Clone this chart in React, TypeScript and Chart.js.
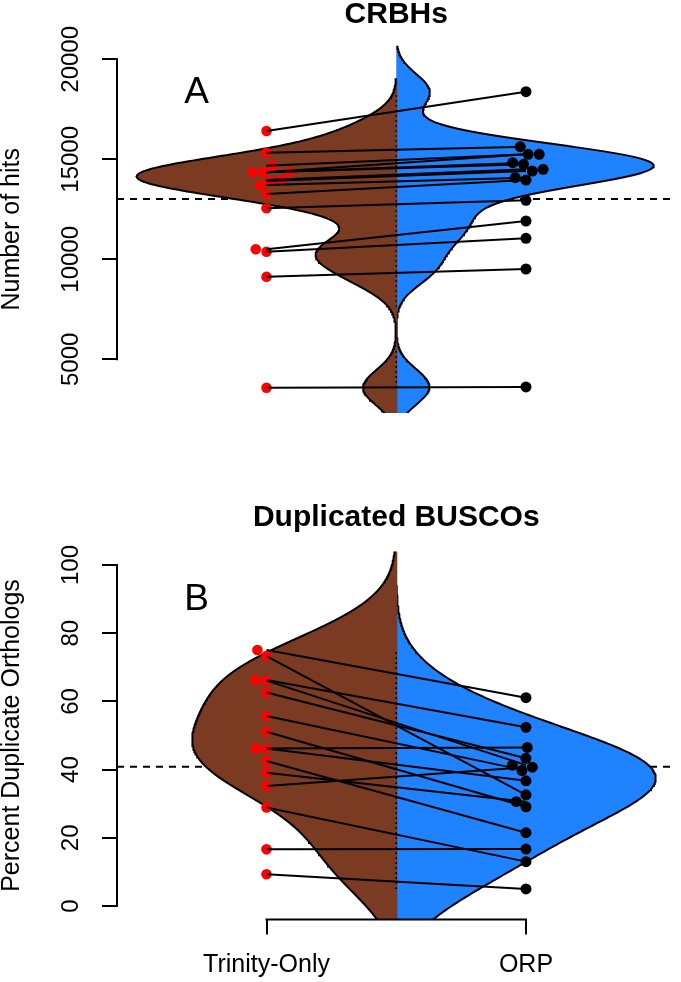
import React, { useEffect, useRef } from "react";
import { Chart, registerables } from "chart.js";

Chart.register(...registerables);

const FONT = '"Liberation Sans", Arial, Helvetica, sans-serif';

// ---------------- data ----------------
const groups = ["Trinity-Only", "ORP"];

// Panel A – CRBHs (paired by index: Trinity-Only[i] -> ORP[i])
const crbhTrinity = [16415, 15330, 14680, 14350, 14350, 14350, 13965, 13915, 13715, 13265, 12550, 10500, 10380, 9130, 3580];
const crbhORP = [18380, 15630, 15250, 15250, 14830, 14750, 14500, 14415, 14080, 13965, 12950, 11915, 11050, 9515, 3620];
const crbhTicks = [5000, 10000, 15000, 20000];
const crbhLimits = [3000, 20000];
const crbhBandwidth = 880;

// Panel B – Duplicated BUSCOs (paired by index)
const buscoTrinity = [75.1, 73.3, 66.3, 66.1, 62.6, 55.7, 51.1, 46.2, 46.2, 42.5, 39.1, 35.2, 28.9, 16.6, 9.3];
const buscoORP = [61.1, 32.6, 52.4, 41.3, 43.3, 39.7, 29.1, 46.5, 36.7, 21.5, 30.6, 40.7, 13.0, 16.7, 5.0];
const buscoTicks = [0, 20, 40, 60, 80, 100];
const buscoLimits = [0, 100];
const buscoBandwidth = 11;

// ---------------- style ----------------
const BROWN = "#7B3A22";
const BLUE = "#1F82FF";
const RED = "#FF0000";
const BLACK = "#000000";
const CENTER = 0.5;
const MAXW = 1.0;
const X_MIN = -0.5763;
const X_MAX = 1.5763;
const SWARM_D = 11;

type PanelSpec = {
  title: string;
  yTitle: string;
  letter: string;
  letterAt: [number, number];
  left: number[];
  right: number[];
  ticks: number[];
  limits: number[];
  bw: number;
  height: number;
  top: number;
  titlePad: { top: number; bottom: number };
  bottomSpace: number;
  showX: boolean;
  tickPad: number;
};

const panelA: PanelSpec = {
  title: "CRBHs",
  yTitle: "Number of hits",
  letter: "A",
  letterAt: [-0.27, 18315],
  left: crbhTrinity,
  right: crbhORP,
  ticks: crbhTicks,
  limits: crbhLimits,
  bw: crbhBandwidth,
  height: 470,
  top: 0,
  titlePad: { top: 0, bottom: 15.7 },
  bottomSpace: 57.1,
  showX: false,
  tickPad: -2.4,
};

const panelB: PanelSpec = {
  title: "Duplicated BUSCOs",
  yTitle: "Percent Duplicate Orthologs",
  letter: "B",
  letterAt: [-0.27, 89.7],
  left: buscoTrinity,
  right: buscoORP,
  ticks: buscoTicks,
  limits: buscoLimits,
  bw: buscoBandwidth,
  height: 512,
  top: 470,
  titlePad: { top: 32.5, bottom: 18.9 },
  bottomSpace: 62.4,
  showX: true,
  tickPad: 11,
};

function kdeAt(values: number[], bw: number, y: number) {
  let d = 0;
  for (const v of values) {
    const z = (y - v) / bw;
    d += Math.exp(-0.5 * z * z);
  }
  return d;
}

function density(values: number[], bw: number, n = 400) {
  const lo = Math.min(...values) - 3 * bw;
  const hi = Math.max(...values) + 3 * bw;
  const out: { y: number; d: number }[] = [];
  for (let i = 0; i <= n; i++) {
    const y = lo + ((hi - lo) * i) / n;
    out.push({ y, d: kdeAt(values, bw, y) });
  }
  return out;
}

function swarm(values: number[], toPix: (v: number) => number, d: number) {
  const idx = values.map((_, i) => i).sort((a, b) => values[a] - values[b]);
  const placed: { x: number; y: number }[] = [];
  const out = new Array(values.length).fill(0);
  for (const i of idx) {
    const y = toPix(values[i]);
    const cands = [0];
    for (const p of placed) {
      const dy = Math.abs(p.y - y);
      if (dy < d) {
        const dx = Math.sqrt(d * d - dy * dy);
        cands.push(p.x + dx, p.x - dx);
      }
    }
    const ok = cands.filter((c) =>
      placed.every((p) => (c - p.x) ** 2 + (y - p.y) ** 2 >= d * d - 1e-6)
    );
    ok.sort((a, b) => Math.abs(a) - Math.abs(b) || a - b);
    const x = ok.length ? ok[0] : 0;
    placed.push({ x, y });
    out[i] = x;
  }
  return out;
}

const rAxes = {
  id: "rAxes",
  afterDraw(chart: any, _args: any, opts: any) {
    const { ctx, chartArea } = chart;
    const ys = chart.scales.y;
    const xs = chart.scales.x;
    const t: number[] = opts.yTicks;
    ctx.save();
    ctx.strokeStyle = BLACK;
    ctx.lineWidth = 2;
    ctx.lineCap = "butt";
    ctx.beginPath();
    ctx.moveTo(chartArea.left, ys.getPixelForValue(t[0]) + 1);
    ctx.lineTo(chartArea.left, ys.getPixelForValue(t[t.length - 1]) - 1);
    ctx.stroke();
    if (opts.showX) {
      ctx.beginPath();
      ctx.moveTo(xs.getPixelForValue(0) - 1, chartArea.bottom);
      ctx.lineTo(xs.getPixelForValue(1) + 1, chartArea.bottom);
      ctx.stroke();
    }
    ctx.fillStyle = BLACK;
    ctx.font = `37px ${FONT}`;
    ctx.textAlign = "center";
    ctx.textBaseline = "middle";
    ctx.fillText(opts.letter, xs.getPixelForValue(opts.letterAt[0]), ys.getPixelForValue(opts.letterAt[1]));
    ctx.restore();
  },
};

function buildConfig(p: PanelSpec): any {
  const span = p.limits[1] - p.limits[0];
  const yMin = p.limits[0] - 0.04 * span;
  const yMax = p.limits[1] + 0.04 * span;
  const all = [...p.left, ...p.right];
  const mean = all.reduce((a, b) => a + b, 0) / all.length;
  const dl = density(p.left, p.bw);
  const dr = density(p.right, p.bw);
  const maxD = Math.max(...dl.map((o) => o.d), ...dr.map((o) => o.d));
  const leftOutline = dl.map((o) => ({ x: CENTER - (o.d / maxD) * MAXW, y: o.y }));
  const rightOutline = dr.map((o) => ({ x: CENTER + (o.d / maxD) * MAXW, y: o.y }));
  const lo = Math.min(...all);
  const hi = Math.max(...all);
  // dotted bean axis along the centre, shown where both halves have visible width
  const centre: { x: number; y: number }[] = [];
  const nC = 300;
  for (let i = 0; i <= nC; i++) {
    const y = lo + ((hi - lo) * i) / nC;
    const w = Math.min(kdeAt(p.left, p.bw, y), kdeAt(p.right, p.bw, y)) / maxD;
    centre.push({ x: w > 0.012 ? CENTER : NaN, y });
  }

  const datasets: any[] = [
    {
      data: [
        { x: X_MIN, y: mean },
        { x: X_MAX, y: mean },
      ],
      borderColor: BLACK,
      borderWidth: 2,
      borderDash: [7, 6],
      pointRadius: 0,
      fill: false,
      order: 10,
    },
    {
      data: leftOutline,
      indexAxis: "y",
      borderColor: BLACK,
      borderWidth: 2,
      backgroundColor: BROWN,
      fill: { value: CENTER + 0.004 },
      pointRadius: 0,
      tension: 0,
      order: 9,
    },
    {
      data: rightOutline,
      indexAxis: "y",
      borderColor: BLACK,
      borderWidth: 2,
      backgroundColor: BLUE,
      fill: { value: CENTER },
      pointRadius: 0,
      tension: 0,
      order: 9,
    },
    {
      data: centre,
      indexAxis: "y",
      borderColor: BLACK,
      borderWidth: 1.6,
      borderDash: [1.6, 3.4],
      pointRadius: 0,
      spanGaps: false,
      fill: false,
      order: 8,
    },
    {
      data: p.left.map((v) => ({ x: 0, y: v })),
      showLine: false,
      pointRadius: 5.3,
      pointBorderWidth: 0,
      pointBackgroundColor: RED,
      fill: false,
      order: 7,
      swarm: "left",
    },
    {
      data: p.right.map((v) => ({ x: 1, y: v })),
      showLine: false,
      pointRadius: 5.5,
      pointBorderWidth: 0,
      pointBackgroundColor: BLACK,
      fill: false,
      order: 7,
      swarm: "right",
    },
    ...p.left.map((v, i) => ({
      data: [
        { x: 0, y: v },
        { x: 1, y: p.right[i] },
      ],
      borderColor: BLACK,
      borderWidth: 2,
      pointRadius: 0,
      fill: false,
      order: 6,
    })),
  ];

  return {
    type: "line",
    data: { datasets },
    plugins: [rAxes],
    options: {
      responsive: false,
      animation: false,
      events: [],
      layout: { padding: { left: 0, right: 0, top: 0, bottom: p.showX ? 0 : p.bottomSpace } },
      plugins: {
        legend: { display: false },
        tooltip: { enabled: false },
        title: {
          display: true,
          text: p.title,
          fullSize: false,
          color: BLACK,
          font: { family: FONT, size: 30, weight: "bold", lineHeight: 1 },
          padding: p.titlePad,
        },
        rAxes: { yTicks: p.ticks, showX: p.showX, letter: p.letter, letterAt: p.letterAt },
      },
      scales: {
        x: {
          type: "linear",
          min: X_MIN,
          max: X_MAX,
          display: p.showX,
          afterBuildTicks: (s: any) => {
            s.ticks = [{ value: 0 }, { value: 1 }];
          },
          afterFit: (s: any) => {
            if (p.showX) s.height = p.bottomSpace;
          },
          ticks: {
            callback: (v: any) => groups[v] ?? "",
            font: { family: FONT, size: 25 },
            color: BLACK,
            padding: 16,
            autoSkip: false,
            minRotation: 0,
            maxRotation: 0,
          },
          grid: { display: true, drawOnChartArea: false, drawTicks: true, tickLength: 15, color: BLACK, lineWidth: 2 },
          border: { display: false },
        },
        y: {
          type: "linear",
          min: yMin,
          max: yMax,
          afterBuildTicks: (s: any) => {
            s.ticks = p.ticks.map((v) => ({ value: v }));
          },
          afterFit: (s: any) => {
            s.width = 117;
          },
          ticks: {
            callback: (v: any) => String(v),
            font: { family: FONT, size: 24 },
            color: BLACK,
            padding: p.tickPad,
            minRotation: 90,
            maxRotation: 90,
            crossAlign: "center",
            autoSkip: false,
          },
          grid: { display: true, drawOnChartArea: false, drawTicks: true, tickLength: 15, color: BLACK, lineWidth: 2 },
          border: { display: false },
          title: {
            display: true,
            text: p.yTitle,
            color: BLACK,
            font: { family: FONT, size: 25, lineHeight: 1 },
            padding: { top: 0, bottom: 0 },
          },
        },
      },
    },
  };
}

function applySwarm(chart: any, p: PanelSpec) {
  const ys = chart.scales.y;
  const xs = chart.scales.x;
  const unit = xs.getPixelForValue(1) - xs.getPixelForValue(0);
  const toPix = (v: number) => ys.getPixelForValue(v);
  const offL = swarm(p.left, toPix, SWARM_D);
  const offR = swarm(p.right, toPix, SWARM_D);
  for (const ds of chart.data.datasets) {
    if (ds.swarm === "left") ds.data = p.left.map((v, i) => ({ x: 0 + offL[i] / unit, y: v }));
    if (ds.swarm === "right") ds.data = p.right.map((v, i) => ({ x: 1 + offR[i] / unit, y: v }));
  }
  chart.update("none");
}

function Panel({ spec }: { spec: PanelSpec }) {
  const ref = useRef<HTMLCanvasElement>(null);
  useEffect(() => {
    if (!ref.current) return;
    const chart = new Chart(ref.current, buildConfig(spec));
    applySwarm(chart, spec);
    return () => chart.destroy();
  }, [spec]);
  return (
    <canvas
      ref={ref}
      width={681}
      height={spec.height}
      style={{ position: "absolute", left: 0, top: spec.top, width: 681, height: spec.height }}
    />
  );
}

export default function App() {
  Chart.defaults.font.family = FONT;
  Chart.defaults.color = BLACK;
  return (
    <div style={{ position: "absolute", left: 0, top: 0, width: 681, height: 982, background: "#ffffff", overflow: "hidden" }}>
      <Panel spec={panelA} />
      <Panel spec={panelB} />
    </div>
  );
}
